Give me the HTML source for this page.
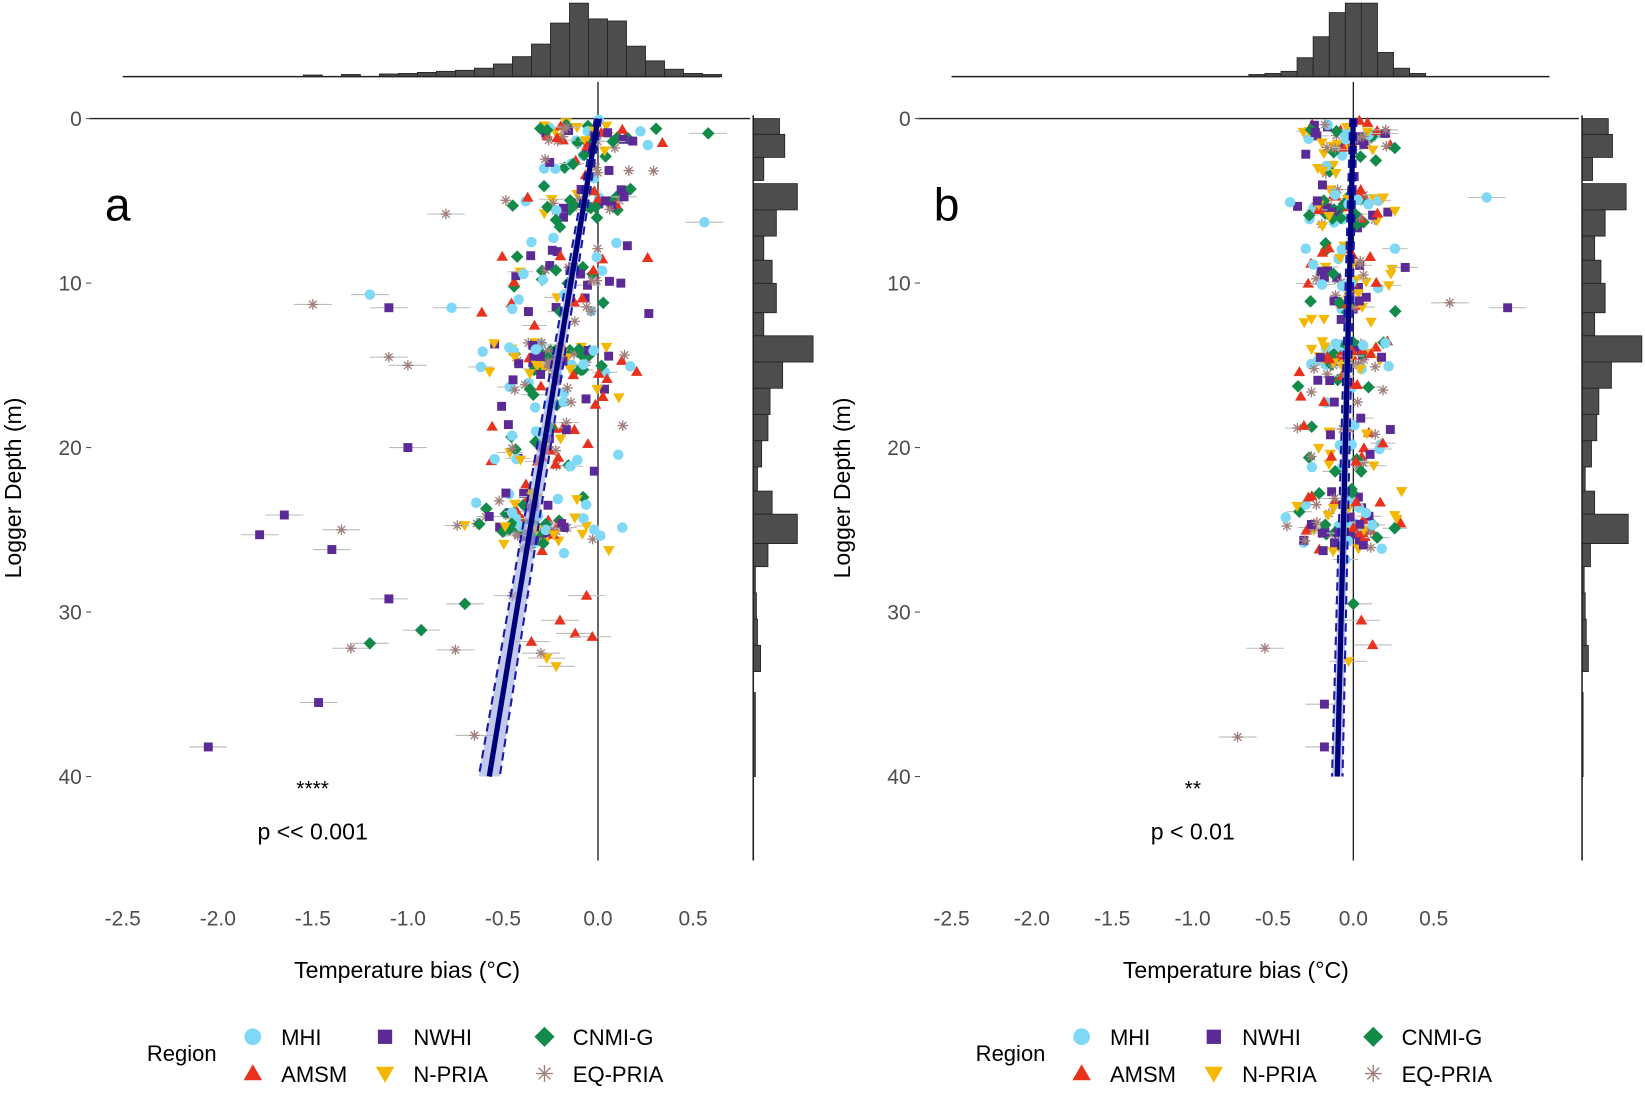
<!DOCTYPE html>
<html><head><meta charset="utf-8"><style>
html,body{margin:0;padding:0;background:#fff;}
svg{display:block;font-family:"Liberation Sans",Arial,sans-serif;}
</style></head><body>
<svg id="s" width="1645" height="1105" viewBox="0 0 1568 1053" preserveAspectRatio="none" xmlns="http://www.w3.org/2000/svg"></svg>
<script>
const s=document.getElementById('s');let h='';
const C={MHI:'#7fd8f5',AMSM:'#e8321e',NWHI:'#5b2a96',NPRIA:'#f5b800',CNMI:'#118a4a',EQ:'#a07f7b'};
function mk(t,x,y,r){r=r||5;const c=C[t];
 if(t=='MHI')return `<circle cx="${x}" cy="${y}" r="${r}" fill="${c}"/>`;
 if(t=='NWHI')return `<rect x="${x-r*0.85}" y="${y-r*0.85}" width="${r*1.7}" height="${r*1.7}" fill="${c}"/>`;
 if(t=='AMSM')return `<polygon points="${x},${y-r*1.1} ${x-r*1.1},${y+r*0.8} ${x+r*1.1},${y+r*0.8}" fill="${c}"/>`;
 if(t=='NPRIA')return `<polygon points="${x},${y+r*1.1} ${x-r*1.1},${y-r*0.8} ${x+r*1.1},${y-r*0.8}" fill="${c}"/>`;
 if(t=='CNMI')return `<polygon points="${x},${y-r*1.2} ${x+r*1.2},${y} ${x},${y+r*1.2} ${x-r*1.2},${y}" fill="${c}"/>`;
 let o='';for(let a=0;a<4;a++){const an=a*Math.PI/4;o+=`<line x1="${x-r*Math.cos(an)}" y1="${y-r*Math.sin(an)}" x2="${x+r*Math.cos(an)}" y2="${y+r*Math.sin(an)}" stroke="${c}" stroke-width="1.3"/>`;}return o;}
let seed=7;function rnd(){seed=(seed*16807)%2147483647;return seed/2147483647;}
function gau(){return (rnd()+rnd()+rnd()-1.5)*2;}
const types=['MHI','AMSM','NWHI','NPRIA','CNMI','EQ'];
const depths=[0.5,1,1,1.5,2,3,4.5,5,5,5.5,6,8,9,10,11,12,14,14,14.5,15,15,16,17,19,20,21,23,24,24.5,25,25,25.5,26];
function panel(ox,x0,sc,rx,slope,m0,m1,sd,bandw,label,stars,p,sx,topbars,topend,rbars,extra){
 const Y=d=>113+d*15.675, X=v=>x0+v*sc;
 const bw=0.1*sc;
 topbars.forEach((t,i)=>{const l=x0+(i-25)*bw-bw*0.5;if(t<72)h+=`<rect x="${l}" y="${t}" width="${bw}" height="${73-t}" fill="#4d4d4d" stroke="#222" stroke-width="0.8"/>`;});
 h+=`<line x1="${x0-2.5*sc}" y1="73" x2="${topend}" y2="73" stroke="#222" stroke-width="1.5"/>`;
 rbars.forEach(b=>{h+=`<rect x="${rx}" y="${b[0]}" width="${b[2]-rx}" height="${b[1]-b[0]}" fill="#4d4d4d" stroke="#222" stroke-width="0.8"/>`;});
 h+=`<line x1="${rx}" y1="110" x2="${rx}" y2="820" stroke="#222" stroke-width="1.5"/>`;
 h+=`<line x1="${x0}" y1="78" x2="${x0}" y2="820" stroke="#222" stroke-width="1.3"/>`;
 h+=`<line x1="${ox+85}" y1="113" x2="${rx-3}" y2="113" stroke="#222" stroke-width="1.3"/>`;
 [0,10,20,30,40].forEach(d=>{h+=`<text x="${ox+78}" y="${Y(d)+7}" font-size="20" fill="#4d4d4d" text-anchor="end">${d}</text><line x1="${ox+82}" y1="${Y(d)}" x2="${ox+87}" y2="${Y(d)}" stroke="#4d4d4d"/>`;});
 h+=`<text transform="translate(${ox+20},465) rotate(-90)" font-size="22" text-anchor="middle">Logger Depth (m)</text>`;
 ['-2.5','-2.0','-1.5','-1.0','-0.5','0.0','0.5'].forEach(v=>{h+=`<text x="${X(+v)}" y="882" font-size="20" fill="#4d4d4d" text-anchor="middle">${v}</text>`;});
 h+=`<text x="${ox+388}" y="932" font-size="22" text-anchor="middle">Temperature bias (°C)</text>`;
 h+=`<text x="${ox+100}" y="210" font-size="44">${label}</text>`;
 h+=`<text x="${sx}" y="758" font-size="20" text-anchor="middle">${stars}</text>`;
 h+=`<text x="${sx}" y="800" font-size="22" text-anchor="middle">${p}</text>`;
 for(let i=0;i<420;i++){const d=depths[Math.floor(rnd()*depths.length)]+gau()*0.3;
  let v=m0+m1*d+gau()*sd;const t=types[Math.floor(rnd()*6)];
  const px=X(v),py=Y(Math.max(0,d));if(px<x0-2.5*sc)continue;
  if(rnd()<0.12)h+=`<line x1="${px-12}" y1="${py}" x2="${px+12}" y2="${py}" stroke="#bbb"/>`;
  h+=mk(t,px,py,5);}
 extra.forEach(e=>{const px=X(e[1]),py=Y(e[2]);h+=`<line x1="${px-18}" y1="${py}" x2="${px+18}" y2="${py}" stroke="#bbb"/>`+mk(e[0],px,py,5);});
 const xb=X(slope*40);
 h+=`<polygon points="${x0-2},113 ${x0+2},113 ${xb+bandw},740 ${xb-bandw},740" fill="#9aa6e0" opacity="0.6"/>`;
 h+=`<line x1="${x0-3}" y1="113" x2="${xb-bandw}" y2="740" stroke="#1a1aa8" stroke-width="2" stroke-dasharray="8,5"/>`;
 h+=`<line x1="${x0+3}" y1="113" x2="${xb+bandw}" y2="740" stroke="#1a1aa8" stroke-width="2" stroke-dasharray="8,5"/>`;
 h+=`<line x1="${x0}" y1="113" x2="${xb}" y2="740" stroke="#00007a" stroke-width="5"/>`;
 h+=`<text x="${ox+140}" y="1011" font-size="21">Region</text>`;
 [['MHI',241,988,'MHI'],['AMSM',241,1023,'AMSM'],['NWHI',367,988,'NWHI'],['NPRIA',367,1023,'N-PRIA'],['CNMI',519,988,'CNMI-G'],['EQ',519,1023,'EQ-PRIA']].forEach(l=>{
  h+=mk(l[0],ox+l[1],l[2],8)+`<text x="${ox+l[1]+27}" y="${l[2]+8}" font-size="21">${l[3]}</text>`;});
}
const topA=[];for(let i=0;i<32;i++)topA.push(72);
[[10,71.5],[12,71],[14,70.5],[15,70],[16,69],[17,68],[18,67],[19,65],[20,61],[21,54],[22,42],[23,22],[24,3],[25,18],[26,20],[27,44],[28,58],[29,66],[30,70],[31,71]].forEach(a=>topA[a[0]]=a[1]);
const topB=[];for(let i=0;i<32;i++)topB.push(72);
[[19,71],[20,70],[21,68],[22,55],[23,35],[24,12],[25,3],[26,3],[27,50],[28,65],[29,70]].forEach(a=>topB[a[0]]=a[1]);
const rA=[[113,128,743],[128,150,748],[150,172,728],[175,200,760],[200,225,740],[225,248,728],[248,270,736],[270,298,740],[298,320,728],[320,345,775],[345,370,746],[370,395,734],[395,420,732],[420,445,726],[445,468,722],[468,490,736],[490,518,760],[518,540,732],[540,565,720],[565,590,721],[590,615,722],[615,640,725],[660,740,720]];
const rBw=[1533,1537,1518,1550,1530,1520,1526,1530,1520,1565,1536,1524,1522,1517,1511,1520,1552,1516,1510,1511,1512,1514,1509];
const rB=rA.map((b,i)=>[b[0],b[1],rBw[i]]);
panel(0,570,181.2,718,-0.0143,-0.08,-0.009,0.17,10,'a','****','p << 0.001',298,topA,687,rA,
 [['NWHI',-2.05,38.2],['NWHI',-1.78,25.3],['NWHI',-1.65,24.1],['EQ',-1.5,11.3],['MHI',-1.2,10.7],['EQ',-1.3,32.2],['EQ',-0.75,32.3],['NWHI',-1.47,35.5],['EQ',-1.1,14.5],['EQ',-0.8,5.8],['MHI',0.56,6.3],['CNMI',0.58,0.9],['CNMI',-0.93,31.1],['CNMI',-1.2,31.9],['EQ',-0.65,37.5],['NWHI',-1.4,26.2],['EQ',-1.35,25],['NWHI',-1.1,29.2],['CNMI',-0.7,29.5],['EQ',-1.0,15],['NWHI',-1.0,20],['NWHI',-1.1,11.5],['MHI',-0.77,11.5],
  ['AMSM',-0.2,30.5],['AMSM',-0.12,31.3],['AMSM',-0.06,29],['AMSM',-0.35,31.8],['NPRIA',-0.22,33.3],['NPRIA',-0.27,32.8],['EQ',-0.3,32.5],['AMSM',-0.03,31.5],['EQ',-0.45,29]]);
panel(790,1290,153.2,1508,-0.0025,-0.05,-0.001,0.14,5,'b','**','p < 0.01',1137,topB,1477,rB,
 [['MHI',0.83,4.8],['EQ',0.6,11.2],['NWHI',0.96,11.5],['EQ',-0.55,32.2],['EQ',-0.72,37.6],['NWHI',-0.18,35.6],['NWHI',-0.18,38.2],['AMSM',0.05,30.5],['CNMI',0.0,29.5],['AMSM',0.12,32],['NPRIA',-0.03,33]]);
s.innerHTML=h;
</script>
</body></html>
